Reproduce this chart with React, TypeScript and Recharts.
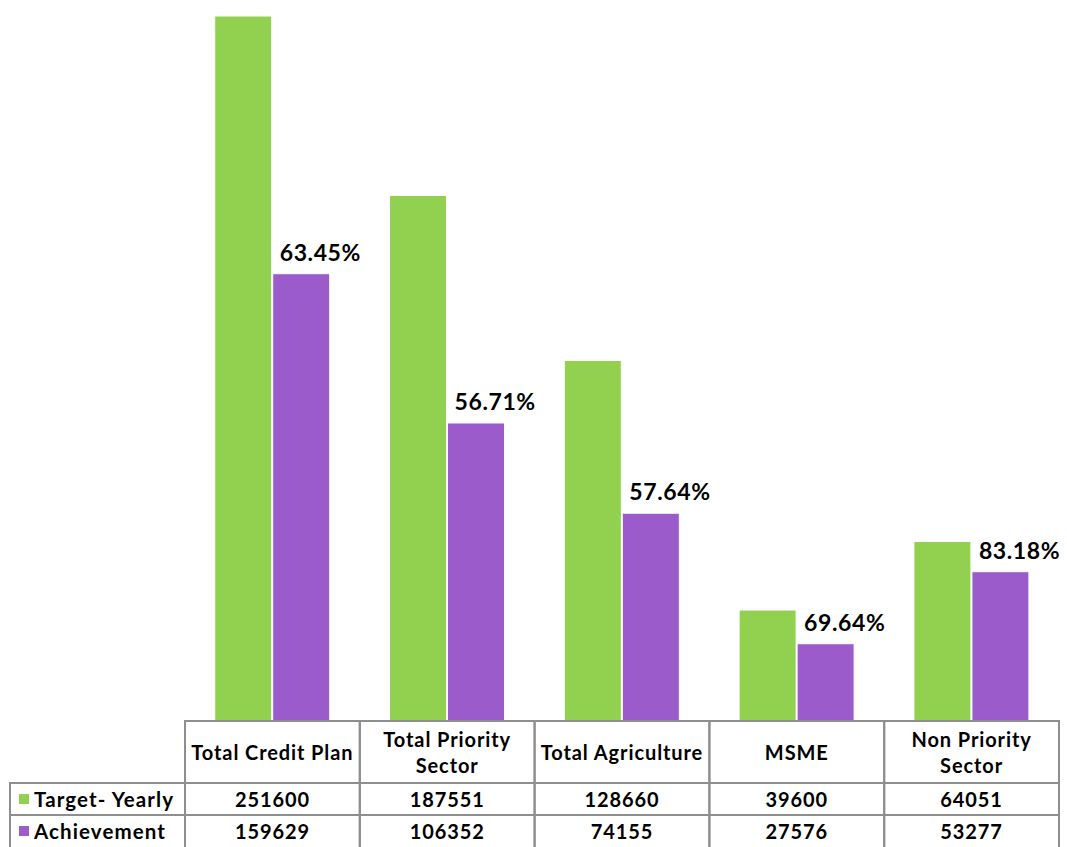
import React from 'react';
import { BarChart, Bar, XAxis, YAxis, LabelList } from 'recharts';

const categories = ['Total Credit Plan', 'Total Priority Sector', 'Total Agriculture', 'MSME', 'Non Priority Sector'];
const headerLines = [['Total Credit Plan'], ['Total Priority', 'Sector'], ['Total Agriculture'], ['MSME'], ['Non Priority', 'Sector']];
const targetYearly = [251600, 187551, 128660, 39600, 64051];
const achievement = [159629, 106352, 74155, 27576, 53277];

const GREEN = '#92D050';
const PURPLE = '#9B5BCB';
const GRID = '#8E8E8E';
const FONT = 'Lato, "Open Sans", sans-serif';

const data = categories.map((name, i) => ({
    name,
    target: targetYearly[i],
    achievement: achievement[i],
    pct: ((achievement[i] / targetYearly[i]) * 100).toFixed(2) + '%'
}));

const COL_W = 174.8;
const HEAD_H = 62;
const ROW_H = 32;

// Cada tick dibuja una columna de la tabla de datos
const TableTick = (props: any) => {
    const { x, y, payload } = props;
    const i = payload.index;
    const left = x - COL_W / 2;
    const lines = headerLines[i];
    const cellText = (txt: string, cy: number, cx: number) => (
        <text x={cx} y={cy} textAnchor="middle" dominantBaseline="central" fontFamily={FONT} fontWeight={700} fontSize={20} letterSpacing={0.9} fill="#000">{txt}</text>
    );
    return (
        <g>
            <rect x={left} y={y} width={COL_W} height={HEAD_H + ROW_H * 2 + 10} fill="none" stroke={GRID} strokeWidth={2} />
            <line x1={left} x2={left + COL_W} y1={y + HEAD_H} y2={y + HEAD_H} stroke={GRID} strokeWidth={2} />
            <line x1={left} x2={left + COL_W} y1={y + HEAD_H + ROW_H} y2={y + HEAD_H + ROW_H} stroke={GRID} strokeWidth={2} />
            {lines.length === 1
                ? cellText(lines[0], y + HEAD_H / 2, x)
                : lines.map((l, k) => <React.Fragment key={k}>{cellText(l, y + 18 + k * 26, x)}</React.Fragment>)}
            {cellText(String(targetYearly[i]), y + HEAD_H + ROW_H / 2, x)}
            {cellText(String(achievement[i]), y + HEAD_H + ROW_H * 1.5, x)}
            {i === 0 && (
                <g>
                    <rect x={10} y={y + HEAD_H} width={left - 10} height={ROW_H * 2 + 10} fill="none" stroke={GRID} strokeWidth={2} />
                    <line x1={10} x2={left} y1={y + HEAD_H + ROW_H} y2={y + HEAD_H + ROW_H} stroke={GRID} strokeWidth={2} />
                    <rect x={19} y={y + HEAD_H + ROW_H / 2 - 5} width={10} height={10} fill={GREEN} />
                    <text x={34} y={y + HEAD_H + ROW_H / 2} dominantBaseline="central" fontFamily={FONT} fontWeight={700} fontSize={20.5} letterSpacing={1.1} fill="#000">Target- Yearly</text>
                    <rect x={19} y={y + HEAD_H + ROW_H * 1.5 - 5} width={10} height={10} fill={PURPLE} />
                    <text x={34} y={y + HEAD_H + ROW_H * 1.5} dominantBaseline="central" fontFamily={FONT} fontWeight={700} fontSize={20.5} letterSpacing={1.1} fill="#000">Achievement</text>
                </g>
            )}
        </g>
    );
};

const PctLabel = (props: any) => {
    const { x, y, value } = props;
    return (
        <text x={x + 7} y={y - 13} fontFamily={FONT} fontWeight={700} fontSize={23} letterSpacing={0.6} fill="#000">{value}</text>
    );
};

const App: React.FC = () => {
    return (
        <div style={{ position: 'absolute', left: 0, top: 0, width: 1067, height: 847, background: '#fff' }}>
            <BarChart
                width={1067}
                height={847}
                data={data}
                margin={{ top: 16, right: 8, bottom: 0, left: 185 }}
                barCategoryGap="17%"
                barGap={1}
            >
                <XAxis
                    dataKey="name"
                    axisLine={false}
                    tickLine={false}
                    tickSize={0}
                    tickMargin={0}
                    height={126}
                    interval={0}
                    tick={<TableTick />}
                />
                <YAxis hide domain={[0, 251600]} />
                <Bar dataKey="target" fill={GREEN} stroke="#fff" strokeWidth={1} isAnimationActive={false} />
                <Bar dataKey="achievement" fill={PURPLE} stroke="#fff" strokeWidth={1} isAnimationActive={false}>
                    <LabelList dataKey="pct" content={<PctLabel />} />
                </Bar>
            </BarChart>
        </div>
    );
};

export default App;
